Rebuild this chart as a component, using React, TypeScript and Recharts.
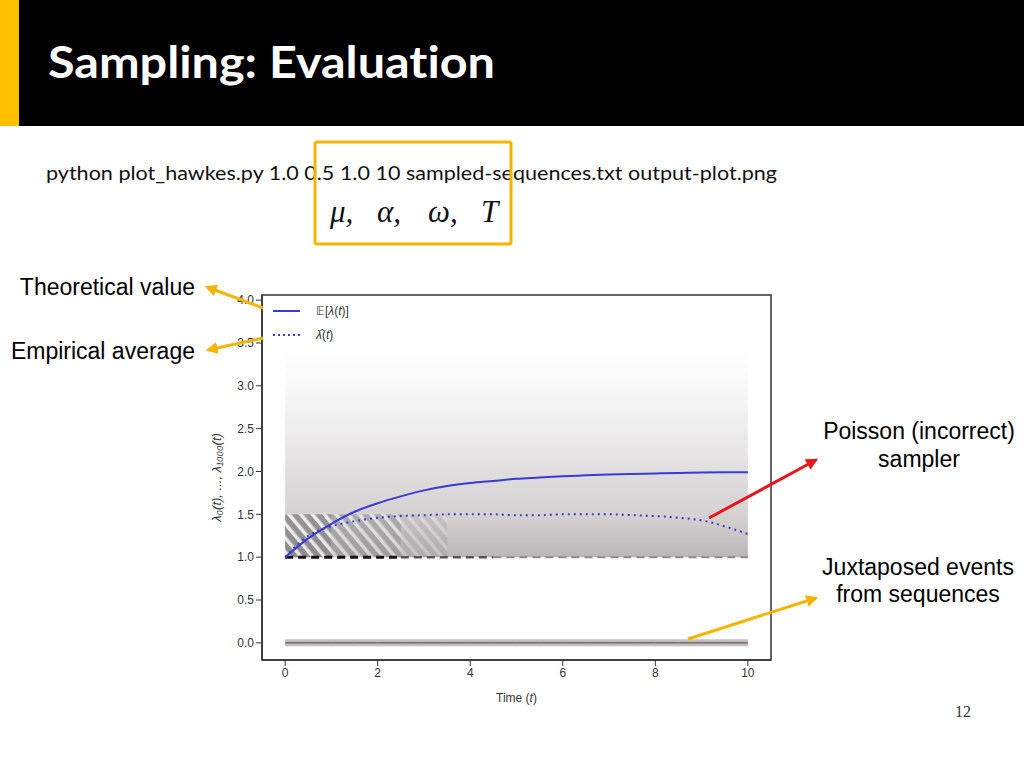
import React from 'react'
import {
  Area,
  ComposedChart,
  Legend,
  Line,
  ReferenceArea,
  XAxis,
  YAxis,
} from 'recharts'

// time grid (t)
const times = [0, 0.5, 1, 1.5, 2, 2.5, 3, 3.5, 4, 4.5, 5, 5.5, 6, 6.5, 7, 7.5, 8, 8.5, 9, 9.5, 10]

// E[lambda(t)] - solid blue
const theoretical = [1.0, 1.22, 1.39, 1.53, 1.63, 1.71, 1.78, 1.83, 1.865, 1.89, 1.915, 1.93, 1.945, 1.955, 1.965, 1.972, 1.978, 1.983, 1.987, 1.99, 1.992]

// lambda-hat(t) - dotted blue
const empirical = [1.0, 1.25, 1.36, 1.42, 1.46, 1.48, 1.49, 1.5, 1.5, 1.5, 1.49, 1.49, 1.5, 1.5, 1.5, 1.49, 1.48, 1.46, 1.43, 1.36, 1.27]

// grey cloud of the 1000 sampled intensities (fades out upwards)
const cloudTop = [3.6, 3.6, 3.6, 3.6, 3.6, 3.6, 3.6, 3.6, 3.6, 3.6, 3.6, 3.6, 3.6, 3.6, 3.6, 3.6, 3.6, 3.6, 3.6, 3.6, 3.6]
// hatched wedge between 1.0 and 1.5, fading to the right
const hatchStrong = [1.5, 1.5, 1.5, null, null, null, null, null, null, null, null, null, null, null, null, null, null, null, null, null, null]
const hatchMid = [null, null, 1.5, 1.5, 1.5, 1.5, null, null, null, null, null, null, null, null, null, null, null, null, null, null, null]
const hatchWeak = [null, null, null, null, null, 1.5, 1.5, 1.5, null, null, null, null, null, null, null, null, null, null, null, null, null]
const baseline = [1, 1, 1, 1, 1, 1, 1, 1, 1, 1, 1, 1, 1, 1, 1, 1, 1, 1, 1, 1, 1]
const eventLevel = [0, 0, 0, 0, 0, 0, 0, 0, 0, 0, 0, 0, 0, 0, 0, 0, 0, 0, 0, 0, 0]

const xTicks = [0, 2, 4, 6, 8, 10]
const yTicks = [0, 0.5, 1, 1.5, 2, 2.5, 3, 3.5, 4]

const band = (top: number | null, i: number) => (top == null ? null : [baseline[i], top])

const rows = times.map((t, i) => ({
  t,
  theo: theoretical[i],
  emp: empirical[i],
  cloud: band(cloudTop[i], i),
  hatchA: band(hatchStrong[i], i),
  hatchB: band(hatchMid[i], i),
  hatchC: band(hatchWeak[i], i),
  dashDark: t <= 2.5 ? baseline[i] : null,
  dashMid: t >= 2.5 && t <= 4.5 ? baseline[i] : null,
  dashLight: t >= 4.5 ? baseline[i] : null,
  events: eventLevel[i],
}))

const chartFont = '"Liberation Sans", Arial, sans-serif'
const yellow = '#F4B400'

function LegendBox() {
  return (
    <div style={{ fontFamily: chartFont, fontSize: 12, color: '#333', lineHeight: '24px' }}>
      <div style={{ display: 'flex', alignItems: 'center' }}>
        <svg width={30} height={10}>
          <line x1={1} y1={5} x2={28} y2={5} stroke="#3a3ad8" strokeWidth={2} />
        </svg>
        <span style={{ marginLeft: 14 }}>
          𝔼[<i>λ</i>(<i>t</i>)]
        </span>
      </div>
      <div style={{ display: 'flex', alignItems: 'center' }}>
        <svg width={30} height={10}>
          <line x1={1} y1={5} x2={28} y2={5} stroke="#3b3bd0" strokeWidth={2} strokeDasharray="2 3" />
        </svg>
        <span style={{ marginLeft: 14 }}>
          <i>λ̂</i>(<i>t</i>)
        </span>
      </div>
    </div>
  )
}

function hatchArea(key: string, opacity: number) {
  return (
    <Area
      key={key}
      dataKey={key}
      type="linear"
      stroke="none"
      fill="url(#hatch)"
      fillOpacity={opacity}
      isAnimationActive={false}
      legendType="none"
      activeDot={false}
    />
  )
}

function dashedLine(key: string, color: string, width: number) {
  return (
    <Line
      key={key}
      dataKey={key}
      stroke={color}
      strokeWidth={width}
      strokeDasharray="8 5"
      dot={false}
      activeDot={false}
      isAnimationActive={false}
      legendType="none"
    />
  )
}

function HawkesChart() {
  return (
    <ComposedChart
      width={590}
      height={430}
      data={rows}
      margin={{ top: 10, right: 19, bottom: 15, left: 0 }}
    >
      <defs>
        {/* vertical fade of the sample cloud, 3.4 -> 1.0 on the y axis */}
        <linearGradient id="cloudFade" gradientUnits="userSpaceOnUse" x1="0" y1="66" x2="0" y2="273">
          <stop offset="0%" stopColor="#7a6f70" stopOpacity={0} />
          <stop offset="18%" stopColor="#7a6f70" stopOpacity={0.05} />
          <stop offset="38%" stopColor="#7a6f70" stopOpacity={0.13} />
          <stop offset="58%" stopColor="#7a6f70" stopOpacity={0.23} />
          <stop offset="80%" stopColor="#7a6f70" stopOpacity={0.32} />
          <stop offset="100%" stopColor="#6f6566" stopOpacity={0.48} />
        </linearGradient>
        <pattern id="hatch" width="9" height="9" patternUnits="userSpaceOnUse" patternTransform="rotate(-40)">
          <rect width="9" height="9" fill="#6e6e6e" />
          <rect width="3.5" height="9" fill="#ffffff" />
        </pattern>
      </defs>
      <XAxis
        dataKey="t"
        type="number"
        domain={[-0.5, 10.5]}
        ticks={xTicks}
        height={40}
        tick={{ fontSize: 12, fill: '#333', fontFamily: chartFont }}
        stroke="#333"
        tickLine={{ stroke: '#333' }}
        axisLine={{ stroke: '#333', strokeWidth: 1.5 }}
        label={({ viewBox }: any) => (
          <text
            x={viewBox.x + viewBox.width / 2}
            y={viewBox.y + 42}
            textAnchor="middle"
            fontSize={12}
            fill="#333"
            fontFamily={chartFont}
          >
            Time (<tspan fontStyle="italic">t</tspan>)
          </text>
        )}
      />
      <YAxis
        type="number"
        domain={[-0.2, 4.06]}
        ticks={yTicks}
        width={62}
        allowDataOverflow
        tickFormatter={(v) => Number(v).toFixed(1)}
        tick={{ fontSize: 12, fill: '#333', fontFamily: chartFont }}
        stroke="#333"
        tickLine={{ stroke: '#333' }}
        axisLine={{ stroke: '#333', strokeWidth: 1.5 }}
        label={({ viewBox }: any) => {
          const cx = viewBox.x + 16
          const cy = viewBox.y + viewBox.height / 2
          return (
            <text
              x={cx}
              y={cy}
              transform={`rotate(-90 ${cx} ${cy})`}
              textAnchor="middle"
              dominantBaseline="central"
              fontSize={13}
              fill="#333"
              fontFamily={chartFont}
              fontStyle="italic"
            >
              λ₀(t), ..., λ₁₀₀₀(t)
            </text>
          )
        }}
      />
      <Legend
        layout="vertical"
        align="center"
        verticalAlign="middle"
        content={() => <LegendBox />}
        wrapperStyle={{ position: 'absolute', top: 14, left: 72, width: 'auto', height: 'auto' }}
      />
      <Area
        dataKey="cloud"
        type="linear"
        stroke="none"
        fill="url(#cloudFade)"
        fillOpacity={1}
        isAnimationActive={false}
        legendType="none"
        activeDot={false}
      />
      {hatchArea('hatchA', 0.62)}
      {hatchArea('hatchB', 0.38)}
      {hatchArea('hatchC', 0.16)}
      {dashedLine('dashLight', '#8a8a8a', 2)}
      {dashedLine('dashMid', '#555', 2.5)}
      {dashedLine('dashDark', '#111', 3)}
      <Line
        dataKey="events"
        stroke="#8a8080"
        strokeOpacity={0.5}
        strokeWidth={7}
        dot={false}
        activeDot={false}
        isAnimationActive={false}
        legendType="none"
      />
      <Line
        dataKey="events"
        stroke="#444"
        strokeWidth={1}
        dot={false}
        activeDot={false}
        isAnimationActive={false}
        legendType="none"
      />
      <Line
        dataKey="theo"
        type="monotone"
        stroke="#3a3ad8"
        strokeWidth={2}
        dot={false}
        activeDot={false}
        isAnimationActive={false}
      />
      <Line
        dataKey="emp"
        type="monotone"
        stroke="#3b3bd0"
        strokeWidth={2}
        strokeDasharray="2 4"
        dot={false}
        activeDot={false}
        isAnimationActive={false}
      />
      <ReferenceArea
        x1={-0.5}
        x2={10.5}
        y1={-0.2}
        y2={4.06}
        fill="none"
        stroke="#333"
        strokeWidth={1.5}
        ifOverflow="visible"
      />
    </ComposedChart>
  )
}

function Overlay() {
  const sans = '"Liberation Sans", Arial, sans-serif'
  return (
    <svg
      width={1024}
      height={768}
      style={{ position: 'absolute', left: 0, top: 0, pointerEvents: 'none' }}
    >
      <defs>
        <marker id="arrowY" viewBox="0 0 10 10" refX="8" refY="5" markerWidth="4" markerHeight="4" orient="auto">
          <path d="M0,0 L10,5 L0,10 z" fill={yellow} />
        </marker>
        <marker id="arrowR" viewBox="0 0 10 10" refX="8" refY="5" markerWidth="4" markerHeight="4" orient="auto">
          <path d="M0,0 L10,5 L0,10 z" fill="#E8161B" />
        </marker>
      </defs>

      {/* header */}
      <rect x={0} y={0} width={1024} height={126} fill="#000" />
      <rect x={0} y={0} width={19} height={126} fill="#FFC000" />
      <text
        x={48}
        y={78}
        fill="#fff"
        fontFamily="Lato, 'Open Sans', sans-serif"
        fontWeight={700}
        fontSize={44}
        textLength={447}
        lengthAdjust="spacingAndGlyphs"
        style={{ fontVariantLigatures: 'none' }}
      >
        Sampling: Evaluation
      </text>

      {/* command line */}
      <text
        x={46}
        y={180}
        fill="#111"
        fontFamily="Lato, 'Open Sans', sans-serif"
        fontSize={19.5}
        textLength={731}
        lengthAdjust="spacingAndGlyphs"
      >
        python plot_hawkes.py 1.0 0.5 1.0 10 sampled-sequences.txt output-plot.png
      </text>
      <g fontFamily="'Liberation Serif', 'DejaVu Serif', serif" fontStyle="italic" fontSize={31} fill="#111">
        <text x={330} y={222}>μ,</text>
        <text x={377} y={222}>α,</text>
        <text x={428} y={222}>ω,</text>
        <text x={481} y={222}>T</text>
      </g>
      <rect x={315} y={142} width={196} height={102} fill="none" stroke={yellow} strokeWidth={3} rx={2} />

      {/* left callouts */}
      <g fontFamily={sans} fontSize={23} fill="#000" textAnchor="end">
        <text x={195} y={295}>Theoretical value</text>
        <text x={195} y={359}>Empirical average</text>
      </g>
      <line x1={263} y1={308} x2={207} y2={287} stroke={yellow} strokeWidth={3} markerEnd="url(#arrowY)" />
      <line x1={263} y1={338} x2={208} y2={350} stroke={yellow} strokeWidth={3} markerEnd="url(#arrowY)" />

      {/* right callouts */}
      <g fontFamily={sans} fontSize={23} fill="#000" textAnchor="middle">
        <text x={919} y={439}>Poisson (incorrect)</text>
        <text x={919} y={467}>sampler</text>
        <text x={918} y={575}>Juxtaposed events</text>
        <text x={918} y={602}>from sequences</text>
      </g>
      <line x1={709} y1={518} x2={816} y2={460} stroke="#E8161B" strokeWidth={3} markerEnd="url(#arrowR)" />
      <line x1={688} y1={639} x2={816} y2={598} stroke={yellow} strokeWidth={3} markerEnd="url(#arrowY)" />

      <text x={963} y={717} textAnchor="middle" fontFamily="'Liberation Serif', serif" fontSize={16} fill="#333">
        12
      </text>
    </svg>
  )
}

export default function App() {
  return (
    <div style={{ position: 'absolute', left: 0, top: 0, width: 1024, height: 768, background: '#fff', overflow: 'hidden' }}>
      <div style={{ position: 'absolute', left: 200, top: 285 }}>
        <HawkesChart />
      </div>
      <Overlay />
    </div>
  )
}
